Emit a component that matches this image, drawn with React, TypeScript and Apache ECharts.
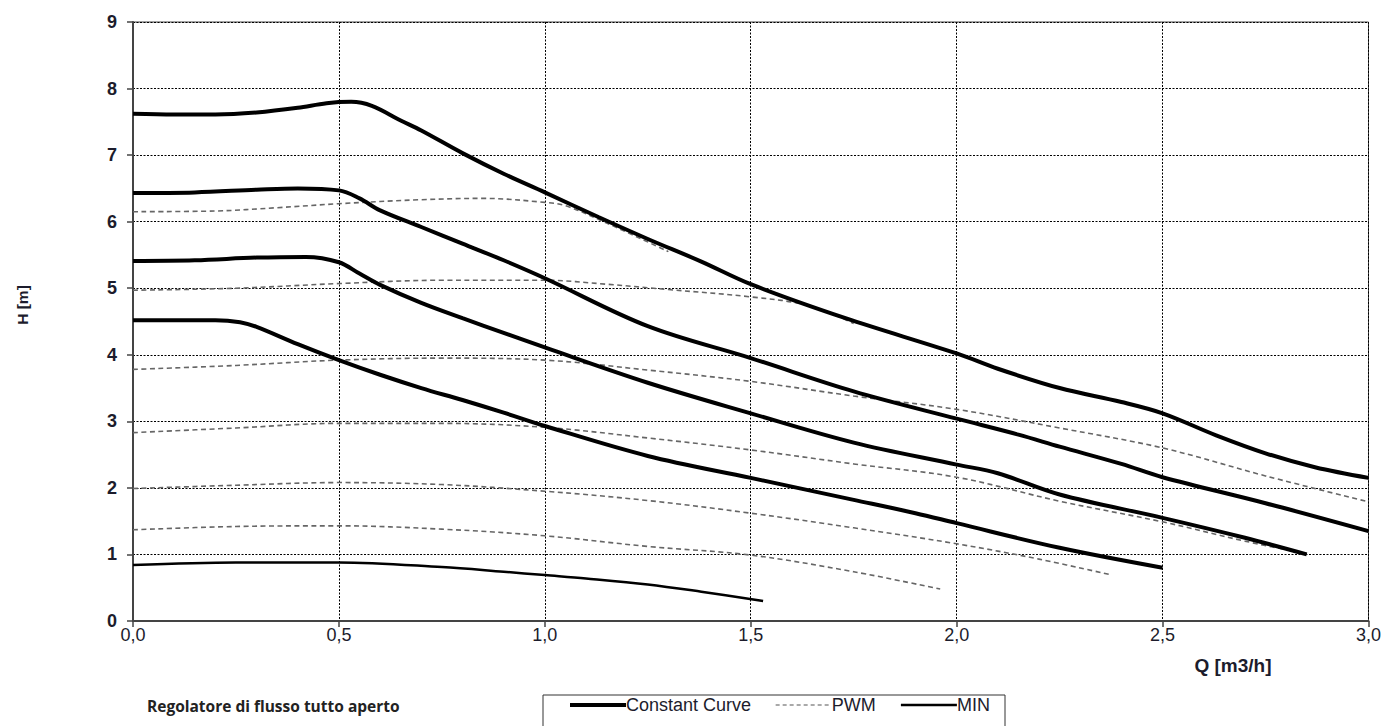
import React, { useEffect, useRef } from "react";
import * as echarts from "echarts";

// Constant curves [Q m3/h, H m]
const constant1: number[][] = [[0,7.62],[0.1,7.61],[0.2,7.61],[0.3,7.64],[0.4,7.71],[0.47,7.78],[0.53,7.8],[0.58,7.74],[0.65,7.52],[0.7,7.37],[0.8,7.03],[0.9,6.72],[1.0,6.44],[1.13,6.07],[1.25,5.74],[1.38,5.4],[1.5,5.06],[1.73,4.55],[2.0,4.02],[2.1,3.79],[2.25,3.5],[2.4,3.29],[2.5,3.12],[2.63,2.79],[2.75,2.52],[2.87,2.31],[3.0,2.15]];
const constant2: number[][] = [[0,6.43],[0.15,6.44],[0.3,6.48],[0.4,6.5],[0.5,6.47],[0.55,6.35],[0.6,6.17],[0.7,5.92],[0.8,5.67],[0.9,5.42],[1.0,5.15],[1.25,4.43],[1.5,3.95],[1.75,3.45],[2.0,3.04],[2.15,2.8],[2.25,2.62],[2.4,2.36],[2.5,2.16],[2.75,1.77],[3.0,1.35]];
const constant3: number[][] = [[0,5.41],[0.15,5.42],[0.3,5.46],[0.42,5.47],[0.5,5.39],[0.55,5.22],[0.6,5.05],[0.7,4.78],[0.8,4.55],[0.9,4.33],[1.0,4.11],[1.25,3.58],[1.5,3.12],[1.75,2.68],[2.0,2.35],[2.1,2.22],[2.25,1.9],[2.5,1.55],[2.7,1.25],[2.85,1.0]];
const constant4: number[][] = [[0,4.52],[0.1,4.52],[0.2,4.52],[0.26,4.49],[0.3,4.42],[0.4,4.16],[0.5,3.92],[0.6,3.7],[0.7,3.5],[0.8,3.32],[0.9,3.13],[1.0,2.93],[1.25,2.48],[1.5,2.15],[1.75,1.82],[1.9,1.62],[2.0,1.47],[2.25,1.1],[2.5,0.8]];
const minCurve: number[][] = [[0,0.84],[0.25,0.88],[0.5,0.88],[0.75,0.81],[0.9,0.74],[1.0,0.69],[1.1,0.64],[1.25,0.55],[1.38,0.44],[1.53,0.3]];

// PWM curves
const pwm1: number[][] = [[0,6.15],[0.2,6.16],[0.35,6.21],[0.5,6.27],[0.7,6.33],[0.85,6.35],[1.0,6.29],[1.05,6.24],[1.15,5.98],[1.3,5.55]];
const pwm2: number[][] = [[0,4.97],[0.25,5.0],[0.5,5.07],[0.75,5.12],[1.0,5.12],[1.15,5.06],[1.3,4.98],[1.5,4.87],[1.64,4.74],[1.75,4.47]];
const pwm3: number[][] = [[0,3.78],[0.25,3.84],[0.5,3.92],[0.75,3.95],[1.0,3.92],[1.25,3.77],[1.5,3.6],[1.75,3.38],[2.0,3.18],[2.25,2.9],[2.5,2.6],[2.75,2.18],[3.0,1.79]];
const pwm4: number[][] = [[0,2.83],[0.25,2.9],[0.5,2.97],[0.75,2.97],[1.0,2.91],[1.25,2.75],[1.5,2.57],[1.75,2.36],[2.0,2.16],[2.25,1.8],[2.5,1.49],[2.7,1.2],[2.85,1.01]];
const pwm5: number[][] = [[0,1.99],[0.25,2.04],[0.5,2.08],[0.75,2.05],[1.0,1.95],[1.25,1.81],[1.5,1.62],[1.75,1.4],[2.0,1.16],[2.2,0.93],[2.37,0.7]];
const pwm6: number[][] = [[0,1.37],[0.25,1.42],[0.5,1.43],[0.75,1.38],[1.0,1.28],[1.25,1.12],[1.5,0.99],[1.75,0.74],[1.96,0.48]];

const constantCurves = [constant1, constant2, constant3, constant4];
const pwmCurves = [pwm1, pwm2, pwm3, pwm4, pwm5, pwm6];

const xTickStep = 0.5;
const yTickStep = 1;
const xMax = 3;
const yMax = 9;

const legendNames = ["Constant Curve", "PWM", "MIN"];
const titleText = "Regolatore di flusso tutto aperto";
const xAxisTitle = "Q [m3/h]";
const yAxisTitle = "H [m]";

const SANS = "'Liberation Sans', Arial, sans-serif";
const TXT = "#1c1c2c";

export default function App() {
  const ref = useRef<HTMLDivElement>(null);
  useEffect(() => {
    if (!ref.current) return;
    const chart = echarts.init(ref.current, null, { renderer: "svg" });
    const series: any[] = [];
    pwmCurves.forEach((d) => {
      series.push({
        name: "PWM",
        type: "line",
        data: d,
        smooth: 0.35,
        symbol: "none",
        z: 2,
        itemStyle: { color: "#666" },
        lineStyle: { color: "#666", width: 1.6, type: [5, 3.5] },
      });
    });
    constantCurves.forEach((d) => {
      series.push({
        name: "Constant Curve",
        type: "line",
        data: d,
        smooth: 0.35,
        symbol: "none",
        z: 4,
        itemStyle: { color: "#000" },
        lineStyle: { color: "#000", width: 4 },
      });
    });
    series.push({
      name: "MIN",
      type: "line",
      data: minCurve,
      smooth: 0.35,
      symbol: "none",
      z: 3,
      itemStyle: { color: "#000" },
      lineStyle: { color: "#000", width: 2.5 },
    });

    chart.setOption({
      animation: false,
      backgroundColor: "#fff",
      grid: {
        left: 133,
        right: 15,
        top: 22,
        bottom: 105,
        show: true,
        borderColor: "#444",
        borderWidth: 1,
      },
      xAxis: {
        type: "value",
        min: 0,
        max: xMax,
        interval: xTickStep,
        axisLine: { show: true, lineStyle: { color: "#444", width: 2 } },
        axisTick: { show: true, length: 6, lineStyle: { color: "#444", width: 1.5 } },
        axisLabel: {
          margin: 5,
          color: TXT,
          fontSize: 18,
          fontFamily: SANS,
          formatter: (v: number) => v.toFixed(1).replace(".", ","),
        },
        splitLine: { show: true, lineStyle: { color: "#000", width: 1, type: [2, 1.5] } },
      },
      yAxis: {
        type: "value",
        min: 0,
        max: yMax,
        interval: yTickStep,
        axisLine: { show: true, lineStyle: { color: "#444", width: 2 } },
        axisTick: { show: true, length: 6, lineStyle: { color: "#444", width: 1.5 } },
        axisLabel: {
          margin: 16,
          color: TXT,
          fontSize: 18,
          fontFamily: SANS,
          fontWeight: "bold",
        },
        splitLine: { show: true, lineStyle: { color: "#000", width: 1, type: [2, 1.5] } },
      },
      legend: {
        show: true,
        data: [
          { name: legendNames[0], lineStyle: { width: 4, color: "#000" } },
          { name: legendNames[1], lineStyle: { width: 1.2, color: "#555", type: [4, 3] } },
          { name: legendNames[2], lineStyle: { width: 2.5, color: "#000" } },
        ],
        left: 568,
        top: 696,
        itemWidth: 56,
        itemHeight: 16,
        itemGap: 24,
        padding: 0,
        itemStyle: { opacity: 0 },
        textStyle: { fontSize: 18, color: TXT, fontFamily: SANS, padding: [0, 0, 0, -5] },
      },
      graphic: [
        {
          type: "rect",
          shape: { x: 543, y: 695, width: 462, height: 40 },
          style: { fill: "none", stroke: "#333", lineWidth: 1 },
          silent: true,
        },
        {
          type: "text",
          x: 147,
          y: 706,
          style: {
            text: titleText,
            fontSize: 15.5,
            fontWeight: "bold",
            fontFamily: "'Open Sans', 'Noto Sans', sans-serif",
            fill: "#222",
            verticalAlign: "middle",
          },
        },
        {
          type: "text",
          x: 1233,
          y: 665,
          style: {
            text: xAxisTitle,
            fontSize: 19,
            fontWeight: "bold",
            fontFamily: SANS,
            fill: TXT,
            align: "center",
            verticalAlign: "middle",
          },
        },
        {
          type: "text",
          x: 22,
          y: 305,
          rotation: Math.PI / 2,
          style: {
            text: yAxisTitle,
            fontSize: 15.5,
            fontWeight: "bold",
            fontFamily: SANS,
            fill: TXT,
            align: "center",
            verticalAlign: "middle",
          },
        },
      ],
      series,
    });
    return () => chart.dispose();
  }, []);
  return (
    <div
      ref={ref}
      style={{ position: "fixed", left: 0, top: 0, width: 1384, height: 726, background: "#fff" }}
    />
  );
}
